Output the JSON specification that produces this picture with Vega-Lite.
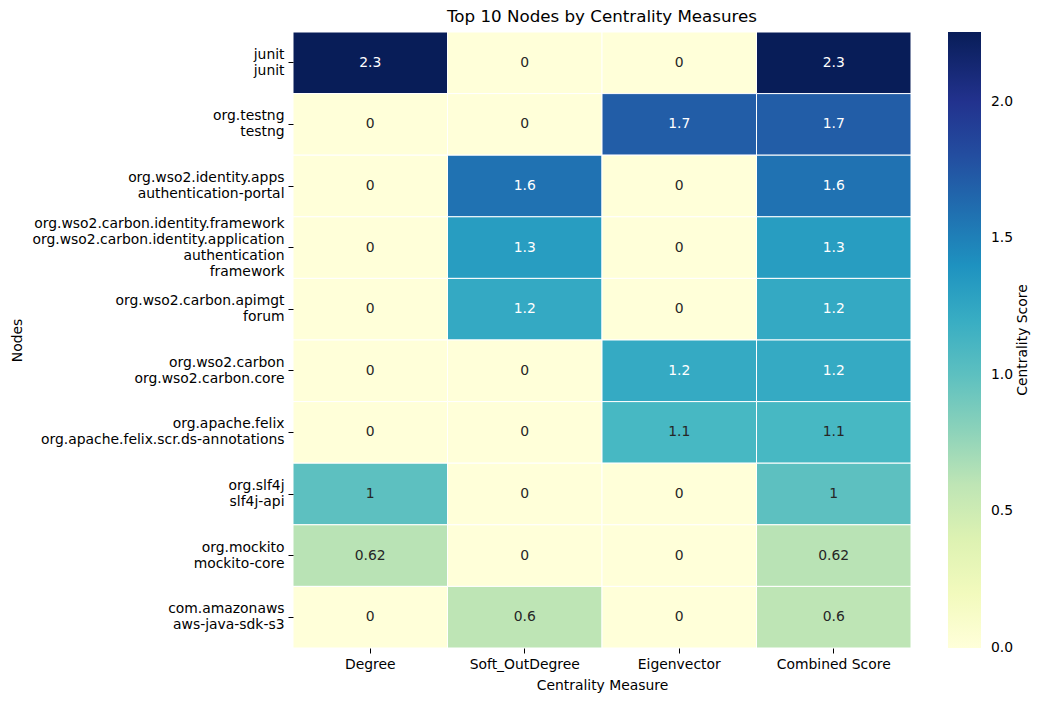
{
  "$schema": "https://vega.github.io/schema/vega-lite/v6.json",
  "width": 618,
  "height": 616,
  "autosize": {"type": "none"},
  "padding": {"left": 293, "top": 32, "right": 131, "bottom": 53},
  "background": "white",
  "title": {"text": "Top 10 Nodes by Centrality Measures", "fontSize": 16.7, "font": "DejaVu Sans", "fontWeight": "normal", "anchor": "middle", "offset": 6, "color": "black"},
  "config": {
    "view": {"stroke": null},
    "font": "DejaVu Sans",
    "axis": {"labelFont": "DejaVu Sans", "labelFontSize": 13.9, "labelColor": "black", "tickColor": "black", "tickSize": 5, "labelPadding": 4, "titleFont": "DejaVu Sans", "titleFontSize": 13.9, "titleFontWeight": "normal", "titleColor": "black", "domain": false, "grid": false}
  },
  "data": {"values": [
    {"node": "junit|junit", "measure": "Degree", "value": 2.256},
    {"node": "junit|junit", "measure": "Soft_OutDegree", "value": 0},
    {"node": "junit|junit", "measure": "Eigenvector", "value": 0},
    {"node": "junit|junit", "measure": "Combined Score", "value": 2.256},
    {"node": "org.testng|testng", "measure": "Degree", "value": 0},
    {"node": "org.testng|testng", "measure": "Soft_OutDegree", "value": 0},
    {"node": "org.testng|testng", "measure": "Eigenvector", "value": 1.7},
    {"node": "org.testng|testng", "measure": "Combined Score", "value": 1.7},
    {"node": "org.wso2.identity.apps|authentication-portal", "measure": "Degree", "value": 0},
    {"node": "org.wso2.identity.apps|authentication-portal", "measure": "Soft_OutDegree", "value": 1.58},
    {"node": "org.wso2.identity.apps|authentication-portal", "measure": "Eigenvector", "value": 0},
    {"node": "org.wso2.identity.apps|authentication-portal", "measure": "Combined Score", "value": 1.58},
    {"node": "org.wso2.carbon.identity.framework|org.wso2.carbon.identity.application|authentication|framework", "measure": "Degree", "value": 0},
    {"node": "org.wso2.carbon.identity.framework|org.wso2.carbon.identity.application|authentication|framework", "measure": "Soft_OutDegree", "value": 1.32},
    {"node": "org.wso2.carbon.identity.framework|org.wso2.carbon.identity.application|authentication|framework", "measure": "Eigenvector", "value": 0},
    {"node": "org.wso2.carbon.identity.framework|org.wso2.carbon.identity.application|authentication|framework", "measure": "Combined Score", "value": 1.32},
    {"node": "org.wso2.carbon.apimgt|forum", "measure": "Degree", "value": 0},
    {"node": "org.wso2.carbon.apimgt|forum", "measure": "Soft_OutDegree", "value": 1.23},
    {"node": "org.wso2.carbon.apimgt|forum", "measure": "Eigenvector", "value": 0},
    {"node": "org.wso2.carbon.apimgt|forum", "measure": "Combined Score", "value": 1.23},
    {"node": "org.wso2.carbon|org.wso2.carbon.core", "measure": "Degree", "value": 0},
    {"node": "org.wso2.carbon|org.wso2.carbon.core", "measure": "Soft_OutDegree", "value": 0},
    {"node": "org.wso2.carbon|org.wso2.carbon.core", "measure": "Eigenvector", "value": 1.22},
    {"node": "org.wso2.carbon|org.wso2.carbon.core", "measure": "Combined Score", "value": 1.22},
    {"node": "org.apache.felix|org.apache.felix.scr.ds-annotations", "measure": "Degree", "value": 0},
    {"node": "org.apache.felix|org.apache.felix.scr.ds-annotations", "measure": "Soft_OutDegree", "value": 0},
    {"node": "org.apache.felix|org.apache.felix.scr.ds-annotations", "measure": "Eigenvector", "value": 1.1},
    {"node": "org.apache.felix|org.apache.felix.scr.ds-annotations", "measure": "Combined Score", "value": 1.1},
    {"node": "org.slf4j|slf4j-api", "measure": "Degree", "value": 1.0},
    {"node": "org.slf4j|slf4j-api", "measure": "Soft_OutDegree", "value": 0},
    {"node": "org.slf4j|slf4j-api", "measure": "Eigenvector", "value": 0},
    {"node": "org.slf4j|slf4j-api", "measure": "Combined Score", "value": 1.0},
    {"node": "org.mockito|mockito-core", "measure": "Degree", "value": 0.62},
    {"node": "org.mockito|mockito-core", "measure": "Soft_OutDegree", "value": 0},
    {"node": "org.mockito|mockito-core", "measure": "Eigenvector", "value": 0},
    {"node": "org.mockito|mockito-core", "measure": "Combined Score", "value": 0.62},
    {"node": "com.amazonaws|aws-java-sdk-s3", "measure": "Degree", "value": 0},
    {"node": "com.amazonaws|aws-java-sdk-s3", "measure": "Soft_OutDegree", "value": 0.6},
    {"node": "com.amazonaws|aws-java-sdk-s3", "measure": "Eigenvector", "value": 0},
    {"node": "com.amazonaws|aws-java-sdk-s3", "measure": "Combined Score", "value": 0.6}
  ]},
  "encoding": {
    "x": {"field": "measure", "type": "nominal", "sort": null, "title": "Centrality Measure",
      "axis": {"labelAngle": 0, "titlePadding": 8}},
    "y": {"field": "node", "type": "nominal", "sort": null, "title": "Nodes",
      "axis": {"labelExpr": "split(datum.label, '|')", "labelLineHeight": 16, "labelLimit": 400, "titleX": -269, "titleY": 308,
        "labelOffset": {"condition": {"test": "length(split(datum.value, '|')) == 4", "value": -24}, "value": -8}}}
  },
  "layer": [
    {
      "mark": {"type": "rect", "stroke": "white", "strokeWidth": 1},
      "encoding": {
        "color": {"field": "value", "type": "quantitative",
          "scale": {"domain": [0, 2.256], "range": ["#ffffd9", "#edf8b1", "#c7e9b4", "#7fcdbb", "#41b6c4", "#1d91c0", "#225ea8", "#253494", "#081d58"], "interpolate": "rgb"},
          "legend": {
            "orient": "none", "legendX": 655, "legendY": 0, "direction": "vertical",
            "gradientLength": 616, "gradientThickness": 33, "gradientStrokeWidth": 0,
            "values": [0, 0.5, 1, 1.5, 2], "format": ".1f",
            "labelFont": "DejaVu Sans", "labelFontSize": 13.9, "labelColor": "black", "labelOffset": 10,
            "title": "Centrality Score", "titleOrient": "right", "titleAnchor": "middle",
            "titleFont": "DejaVu Sans", "titleFontSize": 13.9, "titleFontWeight": "normal", "titleColor": "black", "titlePadding": 3,
            "encoding": {
              "title": {"angle": {"value": -90}, "align": {"value": "center"}, "baseline": {"value": "top"}},
              "labels": {"baseline": {"value": "middle"}}
            }
          }
        }
      }
    },
    {
      "mark": {"type": "text", "font": "DejaVu Sans", "fontSize": 13.9},
      "encoding": {
        "text": {"field": "value", "type": "quantitative", "format": ".2~g"},
        "color": {"condition": {"test": "datum.value > 1.15", "value": "white"}, "value": "#262626"}
      }
    }
  ]
}
